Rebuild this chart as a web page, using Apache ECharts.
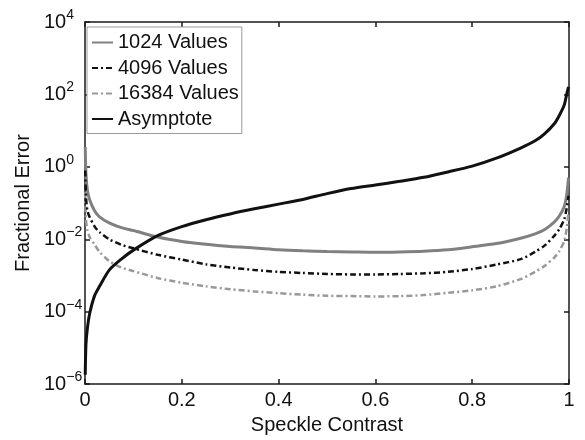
<!DOCTYPE html>
<html>
<head>
<meta charset="utf-8">
<script src="https://cdn.jsdelivr.net/npm/echarts@6/dist/echarts.min.js"></script>
<style>html,body{margin:0;padding:0;background:#fff}#c{width:585px;height:440px}</style>
</head>
<body>
<div id="c"></div>
<script>
// Speckle contrast sample positions
const contrast = [0.0005, 0.002, 0.005, 0.01, 0.02, 0.03, 0.05, 0.075, 0.1, 0.15, 0.2, 0.25, 0.3, 0.35, 0.4, 0.45, 0.5, 0.55, 0.6, 0.65, 0.7, 0.75, 0.8, 0.85, 0.9, 0.93, 0.95, 0.97, 0.98, 0.99, 0.995, 0.999];

const values1024 = [3.55, 0.63, 0.224, 0.120, 0.0603, 0.0417, 0.0282, 0.0209, 0.0174, 0.0115, 0.0087, 0.00724, 0.00631, 0.00575, 0.00513, 0.00479, 0.00457, 0.00447, 0.00437, 0.00447, 0.00468, 0.00513, 0.00617, 0.00759, 0.0107, 0.0141, 0.0186, 0.0302, 0.0437, 0.0794, 0.158, 0.50];

const values4096 = [0.794, 0.158, 0.0603, 0.0398, 0.0224, 0.0158, 0.0100, 0.00708, 0.00562, 0.00372, 0.00275, 0.00204, 0.00166, 0.00141, 0.00126, 0.00117, 0.00110, 0.00107, 0.00107, 0.00110, 0.00115, 0.00126, 0.00151, 0.00200, 0.00282, 0.00447, 0.00676, 0.0126, 0.0191, 0.0355, 0.0692, 0.158];

const values16384 = [0.200, 0.0355, 0.0178, 0.0112, 0.00708, 0.00447, 0.00251, 0.00166, 0.00132, 0.00085, 0.00063, 0.00050, 0.000417, 0.000363, 0.000324, 0.000295, 0.000275, 0.000269, 0.000263, 0.000269, 0.000288, 0.000331, 0.000389, 0.00050, 0.000794, 0.00126, 0.00186, 0.00316, 0.00468, 0.00891, 0.0191, 0.0562];

const asymptote = [1.82e-6, 1.26e-5, 3.55e-5, 9.33e-5, 2.82e-4, 5.01e-4, 1.41e-3, 2.82e-3, 5.01e-3, 0.0126, 0.0224, 0.0347, 0.0501, 0.0692, 0.0933, 0.126, 0.182, 0.251, 0.316, 0.398, 0.513, 0.724, 1.05, 1.74, 3.31, 5.25, 8.32, 15.8, 26.3, 50.1, 97.7, 162];

const seriesNames = ['1024 Values', '4096 Values', '16384 Values', 'Asymptote'];
const xTickLabels = ['0', '0.2', '0.4', '0.6', '0.8', '1'];
const yTickExponents = ['\u22126', '\u22124', '\u22122', '0', '2', '4'];

const FONT = '"Liberation Sans", Arial, Helvetica, sans-serif';
const pairs = arr => contrast.map((x, i) => [x, arr[i]]);

const chart = echarts.init(document.getElementById('c'), null, {renderer: 'canvas'});

const axisLineStyle = {color: '#1a1a1a', width: 1.5};
const baseX = {
  type: 'value', min: 0, max: 1, interval: 0.2,
  axisLine: {show: true, onZero: false, lineStyle: axisLineStyle},
  axisTick: {show: true, inside: true, length: 5, lineStyle: axisLineStyle},
  splitLine: {show: false}
};
const baseY = {
  type: 'log', logBase: 10, min: 1e-6, max: 1e4, interval: 2,
  axisLine: {show: true, onZero: false, lineStyle: axisLineStyle},
  axisTick: {show: true, inside: true, length: 5, lineStyle: axisLineStyle},
  splitLine: {show: false},
  minorTick: {show: false}
};

const lineSeries = (name, data, color, width, type, z) => ({
  name, type: 'line', data: pairs(data),
  showSymbol: false, symbol: 'none', smooth: 0.25,
  lineStyle: {color, width, type},
  itemStyle: {color}, z
});

chart.setOption({
  animation: false,
  backgroundColor: '#fff',
  textStyle: {fontFamily: FONT},
  grid: {left: 85, right: 16, top: 22, bottom: 46, containLabel: false},
  legend: {
    data: seriesNames,
    orient: 'vertical',
    left: 87, top: 27,
    padding: [5, 3, 4, 4],
    itemWidth: 21, itemHeight: 14, itemGap: 4.5,
    backgroundColor: '#fff',
    borderColor: '#9a9a9a', borderWidth: 1,
    itemStyle: {opacity: 0},
    textStyle: {fontFamily: FONT, fontSize: 20, color: '#111', lineHeight: 21}
  },
  xAxis: [
    Object.assign({}, baseX, {
      position: 'bottom',
      name: 'Speckle Contrast', nameLocation: 'middle', nameGap: 25,
      nameTextStyle: {fontFamily: FONT, fontSize: 20, color: '#111'},
      axisLabel: {
        show: true, margin: 6, fontFamily: FONT, fontSize: 20, color: '#111',
        formatter: (v) => xTickLabels[Math.round(v / 0.2)]
      }
    }),
    Object.assign({}, baseX, {position: 'top', axisLabel: {show: false}})
  ],
  yAxis: [
    Object.assign({}, baseY, {
      position: 'left',
      name: 'Fractional Error', nameLocation: 'middle', nameGap: 40,
      nameTextStyle: {fontFamily: FONT, fontSize: 20, color: '#111'},
      axisLabel: {
        show: true, align: 'left', margin: 41, color: '#111',
        formatter: (v) => {
          const e = Math.round(Math.log10(v));
          return '{b|10}{e|' + yTickExponents[(e + 6) / 2] + '}';
        },
        rich: {
          b: {fontFamily: FONT, fontSize: 20, color: '#111'},
          e: {fontFamily: FONT, fontSize: 14, color: '#111', padding: [0, 0, 14, 0]}
        }
      }
    }),
    Object.assign({}, baseY, {position: 'right', axisLabel: {show: false}})
  ],
  series: [
    lineSeries(seriesNames[0], values1024, '#808080', 3, 'solid', 2),
    lineSeries(seriesNames[1], values4096, '#111', 2.5, [6, 3, 2, 3], 3),
    lineSeries(seriesNames[2], values16384, '#999', 2.5, [6, 3, 2, 3], 2),
    lineSeries(seriesNames[3], asymptote, '#111', 3, 'solid', 4)
  ]
});
</script>
</body>
</html>
